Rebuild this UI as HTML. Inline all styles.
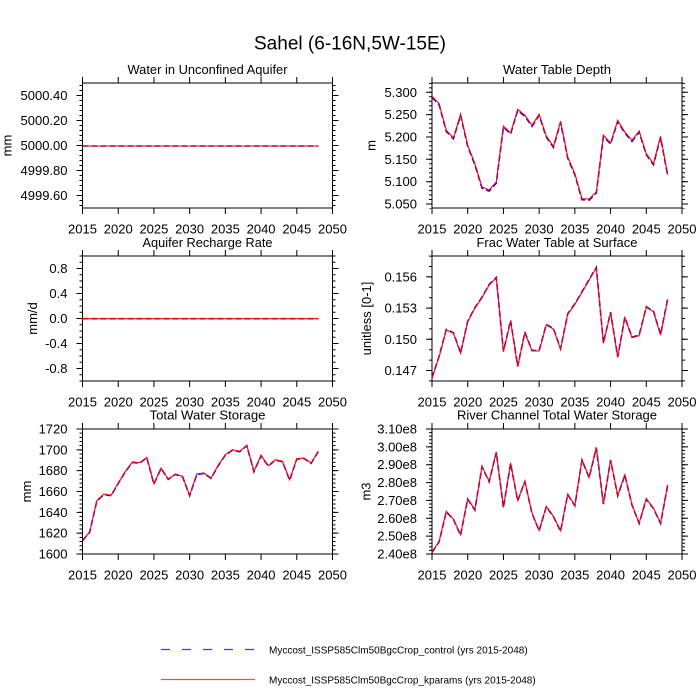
<!DOCTYPE html>
<html>
<head>
<meta charset="utf-8">
<style>
html,body{margin:0;padding:0;background:#fff;}
svg{display:block;}
text{font-family:"Liberation Sans",Arial,Helvetica,sans-serif;fill:#000;}
.tk{font-size:13px;}
.tt{font-size:13px;text-anchor:middle;}
.yl{font-size:13px;text-anchor:end;}
.xl{font-size:13px;text-anchor:middle;}
.box{fill:none;stroke:#000;stroke-width:1;}
.maj{stroke:#000;stroke-width:1;fill:none;}
.min{stroke:#000;fill:none;}
.blue{fill:none;stroke:#0000ff;stroke-width:1.6;stroke-dasharray:6 3;}
.red{fill:none;stroke:#ff0000;stroke-width:1.1;}
</style>
</head>
<body>
<svg width="700" height="700" viewBox="0 0 700 700" xmlns="http://www.w3.org/2000/svg">
<rect x="0" y="0" width="700" height="700" fill="#fff"/>
<defs>
<g id="xt">
<path class="maj" d="M0 125v6M35.714 125v6M71.429 125v6M107.143 125v6M142.857 125v6M178.571 125v6M214.286 125v6M250 125v6M0 0v-6M35.714 0v-6M71.429 0v-6M107.143 0v-6M142.857 0v-6M178.571 0v-6M214.286 0v-6M250 0v-6"/>
<rect class="box" x="0" y="0" width="250" height="125"/>
</g>
</defs>

<text x="350" y="49.5" style="font-size:19px;text-anchor:middle" textLength="192" lengthAdjust="spacingAndGlyphs">Sahel (6-16N,5W-15E)</text>

<!-- Panel 1 -->
<g transform="translate(82.5,83)">
<text class="tt" x="125" y="-9" textLength="160" lengthAdjust="spacingAndGlyphs">Water in Unconfined Aquifer</text>
<path class="min" stroke-width="3" stroke-dasharray="1 4" d="M-1.5 2V125M251.5 2V125"/>
<path class="maj" d="M0 12.5h-6M0 37.5h-6M0 62.5h-6M0 87.5h-6M0 112.5h-6M250 12.5h6M250 37.5h6M250 62.5h6M250 87.5h6M250 112.5h6"/>
<use href="#xt"/>
<text class="yl" x="-15" y="17">5000.40</text>
<text class="yl" x="-15" y="42">5000.20</text>
<text class="yl" x="-15" y="67">5000.00</text>
<text class="yl" x="-15" y="92">4999.80</text>
<text class="yl" x="-15" y="117">4999.60</text>
<text class="xl" x="0" y="150.5">2015</text>
<text class="xl" x="35.714" y="150.5">2020</text>
<text class="xl" x="71.429" y="150.5">2025</text>
<text class="xl" x="107.143" y="150.5">2030</text>
<text class="xl" x="142.857" y="150.5">2035</text>
<text class="xl" x="178.571" y="150.5">2040</text>
<text class="xl" x="214.286" y="150.5">2045</text>
<text class="xl" x="250" y="150.5">2050</text>
<text class="tk" transform="translate(-75.5,62.5) rotate(-90)" text-anchor="middle" dy="0.35em">mm</text>
<path class="blue" d="M0 63H235.71"/>
<path class="red" d="M0 63H235.71"/>
</g>

<!-- Panel 2 -->
<g transform="translate(82.5,256)">
<text class="tt" x="125" y="-9" textLength="130" lengthAdjust="spacingAndGlyphs">Aquifer Recharge Rate</text>
<path class="min" stroke-width="3" stroke-dasharray="1 5.25" d="M-1.5 -0.5V125.5M251.5 -0.5V125.5"/>
<path class="maj" d="M0 12.5h-6M0 37.5h-6M0 62.5h-6M0 87.5h-6M0 112.5h-6M250 12.5h6M250 37.5h6M250 62.5h6M250 87.5h6M250 112.5h6"/>
<use href="#xt"/>
<text class="yl" x="-15" y="17">0.8</text>
<text class="yl" x="-15" y="42">0.4</text>
<text class="yl" x="-15" y="67">0.0</text>
<text class="yl" x="-15" y="92">-0.4</text>
<text class="yl" x="-15" y="117">-0.8</text>
<text class="xl" x="0" y="150.5">2015</text>
<text class="xl" x="35.714" y="150.5">2020</text>
<text class="xl" x="71.429" y="150.5">2025</text>
<text class="xl" x="107.143" y="150.5">2030</text>
<text class="xl" x="142.857" y="150.5">2035</text>
<text class="xl" x="178.571" y="150.5">2040</text>
<text class="xl" x="214.286" y="150.5">2045</text>
<text class="xl" x="250" y="150.5">2050</text>
<text class="tk" transform="translate(-50,62.5) rotate(-90)" text-anchor="middle" dy="0.35em">mm/d</text>
<path class="blue" d="M0 62.7H235.71"/>
<path class="red" d="M0 62.7H235.71"/>
</g>

<!-- Panel 3 -->
<g transform="translate(82.5,429)">
<text class="tt" x="125" y="-9.4" textLength="116" lengthAdjust="spacingAndGlyphs">Total Water Storage</text>
<path class="min" stroke-width="3" stroke-dasharray="1 3.1667" d="M-1.5 -0.5V125.5M251.5 -0.5V125.5"/>
<path class="maj" d="M0 0h-6M0 20.833h-6M0 41.667h-6M0 62.5h-6M0 83.333h-6M0 104.167h-6M0 125h-6M250 0h6M250 20.833h6M250 41.667h6M250 62.5h6M250 83.333h6M250 104.167h6M250 125h6"/>
<use href="#xt"/>
<text class="yl" x="-15" y="4.5">1720</text>
<text class="yl" x="-15" y="25.3">1700</text>
<text class="yl" x="-15" y="46.2">1680</text>
<text class="yl" x="-15" y="67">1660</text>
<text class="yl" x="-15" y="87.8">1640</text>
<text class="yl" x="-15" y="108.7">1620</text>
<text class="yl" x="-15" y="129.5">1600</text>
<text class="xl" x="0" y="150.5">2015</text>
<text class="xl" x="35.714" y="150.5">2020</text>
<text class="xl" x="71.429" y="150.5">2025</text>
<text class="xl" x="107.143" y="150.5">2030</text>
<text class="xl" x="142.857" y="150.5">2035</text>
<text class="xl" x="178.571" y="150.5">2040</text>
<text class="xl" x="214.286" y="150.5">2045</text>
<text class="xl" x="250" y="150.5">2050</text>
<text class="tk" transform="translate(-56,62.5) rotate(-90)" text-anchor="middle" dy="0.35em">mm</text>
</g>
<polyline class="blue" transform="translate(0,0.4)" points="82.5,540.3 89.64,532 96.79,500.7 103.93,494 111.07,495.3 118.21,483 125.36,471.3 132.5,462 139.64,462.7 146.79,457.3 153.93,483.7 161.07,468 168.21,479 175.36,474 182.5,476.3 189.64,495.3 196.79,474 203.93,473 211.07,478 218.21,465.3 225.36,454.7 232.5,449.7 239.64,451.3 246.79,445.3 253.93,471.3 261.07,455.3 268.21,465.7 275.36,459.7 282.5,461.3 289.64,479.7 296.79,458.7 303.93,458 311.07,463 318.21,451.3"/>
<polyline class="red" points="82.5,540.3 89.64,532 96.79,500.7 103.93,494 111.07,495.3 118.21,483 125.36,471.3 132.5,462 139.64,462.7 146.79,457.3 153.93,483.7 161.07,468 168.21,479 175.36,474 182.5,476.3 189.64,495.3 196.79,474 203.93,473 211.07,478 218.21,465.3 225.36,454.7 232.5,449.7 239.64,451.3 246.79,445.3 253.93,471.3 261.07,455.3 268.21,465.7 275.36,459.7 282.5,461.3 289.64,479.7 296.79,458.7 303.93,458 311.07,463 318.21,451.3"/>

<!-- Panel 4 -->
<g transform="translate(432,83)">
<text class="tt" x="125" y="-9" textLength="108" lengthAdjust="spacingAndGlyphs">Water Table Depth</text>
<path class="min" stroke-width="3" stroke-dasharray="1 3.467" d="M-1.5 -0.13V125.5M251.5 -0.13V125.5"/>
<path class="maj" d="M0 9.3h-6M0 31.6h-6M0 54h-6M0 76.3h-6M0 98.7h-6M0 121h-6M250 9.3h6M250 31.6h6M250 54h6M250 76.3h6M250 98.7h6M250 121h6"/>
<use href="#xt"/>
<text class="yl" x="-15" y="13.8">5.300</text>
<text class="yl" x="-15" y="36.1">5.250</text>
<text class="yl" x="-15" y="58.5">5.200</text>
<text class="yl" x="-15" y="80.8">5.150</text>
<text class="yl" x="-15" y="103.2">5.100</text>
<text class="yl" x="-15" y="125.5">5.050</text>
<text class="xl" x="0" y="150.5">2015</text>
<text class="xl" x="35.714" y="150.5">2020</text>
<text class="xl" x="71.429" y="150.5">2025</text>
<text class="xl" x="107.143" y="150.5">2030</text>
<text class="xl" x="142.857" y="150.5">2035</text>
<text class="xl" x="178.571" y="150.5">2040</text>
<text class="xl" x="214.286" y="150.5">2045</text>
<text class="xl" x="250" y="150.5">2050</text>
<text class="tk" transform="translate(-61,62.5) rotate(-90)" text-anchor="middle" dy="0.35em">m</text>
</g>
<polyline class="blue" transform="translate(0,1)" points="432,96.3 439.14,103.7 446.29,130.3 453.43,137.7 460.57,114.3 467.71,145.3 474.86,163.7 482,187 489.14,190 496.29,182 503.43,126 510.57,133 517.71,109.3 524.86,115.3 532,125.3 539.14,114.3 546.29,136 553.43,146.3 560.57,121.3 567.71,157 574.86,173.7 582,198.7 589.14,199 596.29,192 603.43,135.3 610.57,143 617.71,120.3 624.86,132 632,140.3 639.14,131 646.29,153.7 653.43,163.7 660.57,136.3 667.71,174.7"/>
<polyline class="red" points="432,96.3 439.14,103.7 446.29,130.3 453.43,137.7 460.57,114.3 467.71,145.3 474.86,163.7 482,187 489.14,190 496.29,182 503.43,126 510.57,133 517.71,109.3 524.86,115.3 532,125.3 539.14,114.3 546.29,136 553.43,146.3 560.57,121.3 567.71,157 574.86,173.7 582,198.7 589.14,199 596.29,192 603.43,135.3 610.57,143 617.71,120.3 624.86,132 632,140.3 639.14,131 646.29,153.7 653.43,163.7 660.57,136.3 667.71,174.7"/>

<!-- Panel 5 -->
<g transform="translate(432,256)">
<text class="tt" x="125" y="-9" textLength="161" lengthAdjust="spacingAndGlyphs">Frac Water Table at Surface</text>
<path class="min" stroke-width="3" stroke-dasharray="1 9.4" d="M-1.5 -0.4V125.5M251.5 -0.4V125.5"/>
<path class="maj" d="M0 20.9h-6M0 52.1h-6M0 83.3h-6M0 114.5h-6M250 20.9h6M250 52.1h6M250 83.3h6M250 114.5h6"/>
<use href="#xt"/>
<text class="yl" x="-15" y="25.4">0.156</text>
<text class="yl" x="-15" y="56.6">0.153</text>
<text class="yl" x="-15" y="87.8">0.150</text>
<text class="yl" x="-15" y="119">0.147</text>
<text class="xl" x="0" y="150.5">2015</text>
<text class="xl" x="35.714" y="150.5">2020</text>
<text class="xl" x="71.429" y="150.5">2025</text>
<text class="xl" x="107.143" y="150.5">2030</text>
<text class="xl" x="142.857" y="150.5">2035</text>
<text class="xl" x="178.571" y="150.5">2040</text>
<text class="xl" x="214.286" y="150.5">2045</text>
<text class="xl" x="250" y="150.5">2050</text>
<text class="tk" transform="translate(-65.5,62.5) rotate(-90)" text-anchor="middle" dy="0.35em">unitless [0-1]</text>
</g>
<polyline class="blue" transform="translate(0,-0.5)" points="432,378.3 439.14,356.7 446.29,330 453.43,333.3 460.57,353.3 467.71,321.7 474.86,308.3 482,297.7 489.14,285 496.29,278 503.43,351.7 510.57,321 517.71,366.7 524.86,332.7 532,351 539.14,351 546.29,325 553.43,329 560.57,349.3 567.71,314.3 574.86,304.3 582,292.3 589.14,280 596.29,268 603.43,343.3 610.57,312.7 617.71,357.3 624.86,317.7 632,337.7 639.14,335.7 646.29,307.3 653.43,311.7 660.57,335 667.71,299.3"/>
<polyline class="red" points="432,378.3 439.14,356.7 446.29,330 453.43,333.3 460.57,353.3 467.71,321.7 474.86,308.3 482,297.7 489.14,285 496.29,278 503.43,351.7 510.57,321 517.71,366.7 524.86,332.7 532,351 539.14,351 546.29,325 553.43,329 560.57,349.3 567.71,314.3 574.86,304.3 582,292.3 589.14,280 596.29,268 603.43,343.3 610.57,312.7 617.71,357.3 624.86,317.7 632,337.7 639.14,335.7 646.29,307.3 653.43,311.7 660.57,335 667.71,299.3"/>

<!-- Panel 6 -->
<g transform="translate(432,429)">
<text class="tt" x="125" y="-9.4" textLength="200" lengthAdjust="spacingAndGlyphs">River Channel Total Water Storage</text>
<path class="min" stroke-width="3" stroke-dasharray="1 2.571" d="M-1.5 -0.5V125.5M251.5 -0.5V125.5"/>
<path class="maj" d="M0 0h-6M0 17.857h-6M0 35.714h-6M0 53.571h-6M0 71.429h-6M0 89.286h-6M0 107.143h-6M0 125h-6M250 0h6M250 17.857h6M250 35.714h6M250 53.571h6M250 71.429h6M250 89.286h6M250 107.143h6M250 125h6"/>
<use href="#xt"/>
<text class="yl" x="-15" y="4.5">3.10e8</text>
<text class="yl" x="-15" y="22.4">3.00e8</text>
<text class="yl" x="-15" y="40.2">2.90e8</text>
<text class="yl" x="-15" y="58.1">2.80e8</text>
<text class="yl" x="-15" y="75.9">2.70e8</text>
<text class="yl" x="-15" y="93.8">2.60e8</text>
<text class="yl" x="-15" y="111.6">2.50e8</text>
<text class="yl" x="-15" y="129.5">2.40e8</text>
<text class="xl" x="0" y="150.5">2015</text>
<text class="xl" x="35.714" y="150.5">2020</text>
<text class="xl" x="71.429" y="150.5">2025</text>
<text class="xl" x="107.143" y="150.5">2030</text>
<text class="xl" x="142.857" y="150.5">2035</text>
<text class="xl" x="178.571" y="150.5">2040</text>
<text class="xl" x="214.286" y="150.5">2045</text>
<text class="xl" x="250" y="150.5">2050</text>
<text class="tk" transform="translate(-66,62.5) rotate(-90)" text-anchor="middle" dy="0.35em">m3</text>
</g>
<polyline class="blue" transform="translate(0,0.4)" points="432,552 439.14,541.3 446.29,511.3 453.43,519 460.57,534.7 467.71,498.7 474.86,509.7 482,466.3 489.14,481.3 496.29,452 503.43,507.3 510.57,463 517.71,500.3 524.86,481.3 532,513 539.14,530.3 546.29,506.3 553.43,516.3 560.57,530.7 567.71,494 574.86,505.3 582,459.7 589.14,477.3 596.29,447.3 603.43,503.7 610.57,459.7 617.71,495.3 624.86,474.7 632,504.7 639.14,523 646.29,498.7 653.43,508 660.57,523 667.71,484.7"/>
<polyline class="red" points="432,552 439.14,541.3 446.29,511.3 453.43,519 460.57,534.7 467.71,498.7 474.86,509.7 482,466.3 489.14,481.3 496.29,452 503.43,507.3 510.57,463 517.71,500.3 524.86,481.3 532,513 539.14,530.3 546.29,506.3 553.43,516.3 560.57,530.7 567.71,494 574.86,505.3 582,459.7 589.14,477.3 596.29,447.3 603.43,503.7 610.57,459.7 617.71,495.3 624.86,474.7 632,504.7 639.14,523 646.29,498.7 653.43,508 660.57,523 667.71,484.7"/>

<!-- Legend -->
<path d="M161 649.5H255" stroke="#3a3aff" stroke-width="1.3" stroke-dasharray="9 12" fill="none"/>
<text x="269" y="653.3" style="font-size:10.5px" textLength="258.7" lengthAdjust="spacingAndGlyphs">Myccost_ISSP585Clm50BgcCrop_control (yrs 2015-2048)</text>
<path d="M161 679.5H255" stroke="#ff4a4a" stroke-width="1.3" fill="none"/>
<text x="269" y="683.3" style="font-size:10.5px" textLength="266.7" lengthAdjust="spacingAndGlyphs">Myccost_ISSP585Clm50BgcCrop_kparams (yrs 2015-2048)</text>
</svg>
</body>
</html>
